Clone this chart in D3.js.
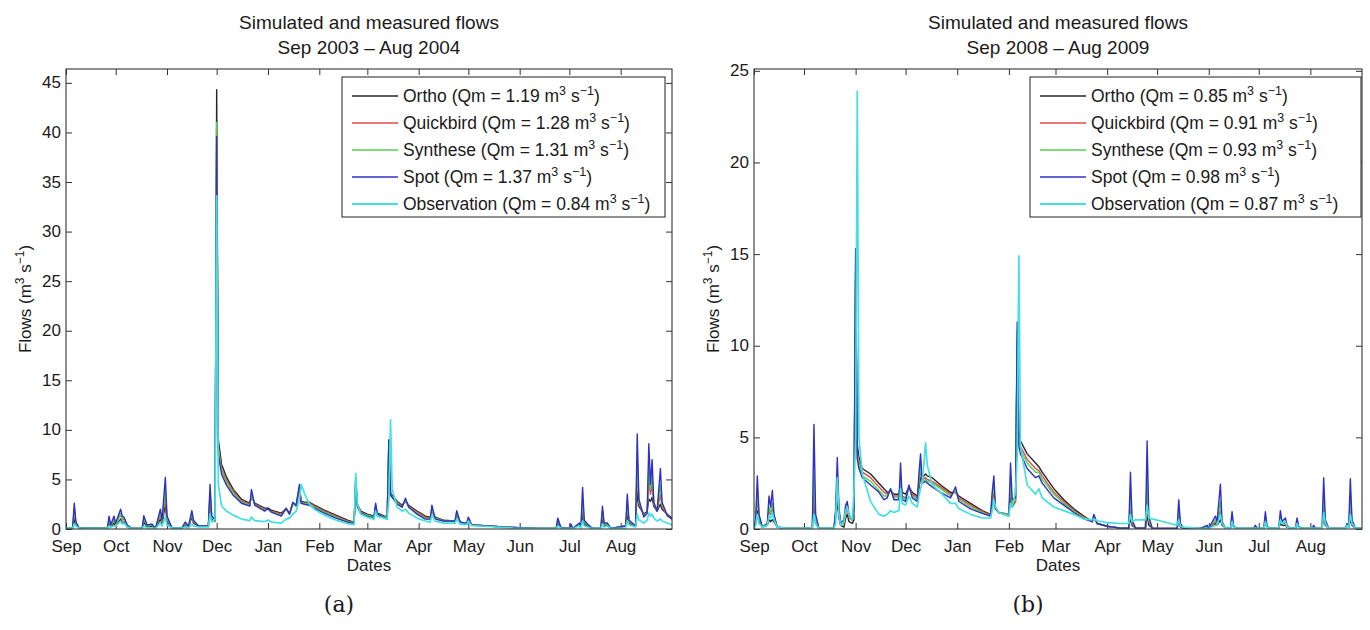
<!DOCTYPE html>
<html><head><meta charset="utf-8">
<script src="https://cdn.jsdelivr.net/npm/d3@7"></script>
<style>
body{margin:0;background:#fff}
text{font-family:"Liberation Sans",Arial,Helvetica,sans-serif;fill:#1a1a1a}
</style>
</head><body><svg id="c" width="1370" height="630"></svg>
<script>
// ---------- shared ----------
const seriesNames = ["Ortho","Quickbird","Synthese","Spot","Observation"];
const seriesColors = ["#262626","#e2474b","#4fd24f","#3030c4","#44e0e0"];
const monthLabels = ["Sep","Oct","Nov","Dec","Jan","Feb","Mar","Apr","May","Jun","Jul","Aug"];
const yTicksA = [0,5,10,15,20,25,30,35,40,45];
const yTicksB = [0,5,10,15,20,25];
const qmA = ["1.19","1.28","1.31","1.37","0.84"];
const qmB = ["0.85","0.91","0.93","0.98","0.87"];

// ---------- panel (a): Sep 2003 - Aug 2004, day 0 = 1 Sep 2003 ----------
const daysA = [0,4,5,6,8,25,26,27,29,30, 33,34,35,37,40,46,47,49,52,54, 57,58,60,61,64,70,72,74,76,77,
 80,86,87,88,90,91,92,94,97,101, 106,111,112,114,120,122,124,130,133,135, 137,139,141,142,144,147,150,156,163,170,
 174,175,176,178,182,186,187,188,194,195, 196,197,200,203,205,207,212,217,220,221, 223,228,235,236,238,242,243,245,255,270,
 285,296,297,299,304,305,306,310,311,312, 313,315,318,323,324,325,327,329,338,339, 340,344,345,346,349,351,352,353,354,355,
 357,359,360,363,366];
const orthoA = [.05,.1,1.0,.4,.1,.05,.6,.2,.6,.3, 1.0,.6,.7,.2,.05,.05,.7,.2,.3,.05, 1.0,.5,2.5,.8,.1,.1,.4,.2,1.2,.6,
 .3,.3,3.0,1.0,.8,44.3,9.0,6.5,5.2,4.0, 3.0,2.6,3.3,2.6,2.1,2.1,1.9,1.6,2.0,1.6, 2.6,2.3,4.2,2.8,2.7,2.7,2.4,1.9,1.4,.9,
 .7,4.5,2.5,1.8,1.5,1.3,2.2,1.6,1.2,9.0, 3.6,3.4,2.8,2.4,2.8,2.4,1.8,1.3,1.2,1.8, 1.2,.9,.8,1.5,.7,.55,1.0,.4,.3,.15,
 .05,.05,.6,.1,.05,.3,.05,.5,.2,1.5, .5,.3,.05,.05,1.0,.4,.4,.05,.3,1.5, .6,.3,3.8,2.3,1.5,1.8,3.0,2.8,3.2,2.3,
 1.8,2.5,2.0,1.5,1.1];
const quickbirdA = [.05,.1,1.8,.5,.1,.05,.9,.3,.9,.5, 1.5,.9,1.0,.3,.05,.05,1.0,.3,.4,.05, 1.4,.7,3.5,1.0,.1,.1,.5,.2,1.5,.7,
 .3,.3,3.6,1.1,.9,40.5,8.3,6.0,4.9,3.8, 2.8,2.5,3.4,2.5,2.0,2.0,1.8,1.5,2.0,1.5, 2.5,2.3,4.2,2.7,2.6,2.6,2.3,1.8,1.3,.8,
 .65,4.8,2.4,1.7,1.4,1.2,2.3,1.5,1.1,8.8, 3.5,3.3,2.7,2.3,2.9,2.3,1.7,1.2,1.1,1.9, 1.1,.85,.8,1.6,.7,.55,1.05,.4,.3,.15,
 .05,.05,.8,.1,.05,.4,.05,.5,.2,2.4, .7,.4,.05,.05,1.5,.5,.5,.05,.3,2.2, .7,.3,6.0,2.6,1.4,1.7,5.0,3.5,4.5,2.5,
 1.8,3.5,2.3,1.4,1.0];
const syntheseA = [.05,.1,2.0,.6,.1,.05,1.0,.3,1.0,.5, 1.6,1.0,1.1,.3,.05,.05,1.1,.3,.4,.05, 1.6,.8,4.0,1.1,.1,.1,.6,.2,1.6,.8,
 .3,.3,3.8,1.2,.9,41.0,8.0,5.8,4.7,3.6, 2.7,2.4,3.5,2.4,1.9,2.0,1.7,1.4,2.0,1.5, 2.5,2.3,4.3,2.6,2.6,2.5,2.2,1.7,1.2,.75,
 .6,5.0,2.3,1.6,1.4,1.2,2.4,1.5,1.1,8.7, 3.4,3.2,2.6,2.2,2.9,2.2,1.6,1.1,1.0,2.0, 1.1,.8,.8,1.7,.7,.55,1.1,.4,.3,.15,
 .05,.05,.9,.1,.05,.4,.05,.5,.2,2.8, .8,.4,.05,.05,1.8,.5,.5,.05,.3,2.6, .8,.3,7.0,2.8,1.3,1.6,6.2,4.0,5.5,2.6,
 1.8,4.5,2.5,1.4,1.0];
const spotA = [.05,.1,2.6,.7,.1,.05,1.3,.4,1.3,.6, 2.0,1.3,1.2,.4,.05,.05,1.35,.4,.5,.05, 2.0,.9,5.2,1.3,.1,.1,.7,.3,1.85,.9,
 .3,.3,4.5,1.3,1.0,39.6,7.5,5.5,4.4,3.4, 2.6,2.3,4.0,2.4,1.8,2.1,1.7,1.3,2.1,1.5, 2.7,2.4,4.5,2.6,2.5,2.4,2.1,1.6,1.1,.7,
 .55,5.2,2.2,1.6,1.3,1.1,2.6,1.5,1.0,8.9, 3.4,3.2,2.5,2.2,3.1,2.2,1.5,1.0,1.0,2.4, 1.0,.8,.8,1.85,.7,.55,1.2,.4,.3,.15,
 .05,.05,1.1,.1,.05,.5,.05,.6,.2,4.2, .9,.5,.05,.05,2.3,.6,.6,.05,.3,3.5, .9,.3,9.6,3.0,1.2,1.6,8.6,4.5,7.0,2.7,
 1.8,6.1,2.7,1.4,1.0];
const observationA = [.1,.1,.5,.3,.1,.05,.3,.2,.3,.3, .8,.5,.6,.2,.05,.05,.3,.1,.1,.05, .6,.3,1.2,.4,.1,.1,.2,.1,.5,.3,
 .2,.2,1.5,.7,1.0,33.6,4.5,2.3,1.8,1.4, 1.0,.85,1.2,.85,.75,.9,.7,.6,1.0,1.1, 1.5,1.8,3.0,4.5,3.6,2.5,2.0,1.4,.9,.55,
 .45,5.6,2.5,1.5,1.2,1.0,1.8,1.3,1.0,3.0, 11.0,4.0,2.2,1.8,2.0,1.6,1.1,.8,.7,1.4, .8,.6,.6,1.0,.5,.45,.8,.35,.25,.1,
 .03,.03,.3,.05,.03,.1,.03,.3,.1,.8, .3,.2,.03,.03,.5,.2,.3,.03,.1,.8, .4,.2,1.5,.9,.6,.9,1.6,1.3,1.5,1.1,
 .8,1.0,.8,.6,.4];

// ---------- panel (b): Sep 2008 - Aug 2009, day 0 = 1 Sep 2008 ----------
const daysB = [0,1,2,3,5,8,9,10,11,12, 14,20,35,36,37,39,48,49,50,51, 52,54,55,56,57,59,60,61,62,63,
 65,70,75,78,80,82,84,87,88,89, 91,93,95,98,99,100,101,103,104,107, 112,118,121,123,130,137,142,143,144,145,
 147,153,154,155,157,158,159,160,164,169, 171,173,180,186,192,198,203,204,206,212, 220,225,226,227,229,235,236,237,239,250,
 254,255,256,258,268,272,273,277,278,280, 281,283,286,287,288,290,300,301,302,306, 307,308,310,315,316,317,319,320,322,325,
 326,327,329,335,336,337,341,342,343,345, 355,356,357,358,359,361,365];
const orthoB = [.05,.3,1.0,.4,.1,.2,.5,.4,.5,.4, .1,.03,.03,1.5,.3,.03,.03,.6,1.5,.6, .2,.1,.6,.8,.4,.3,.5,13.5,4.6,3.9,
 3.3,3.0,2.5,2.2,2.0,2.1,1.9,1.9,2.3,2.0, 1.9,2.3,2.0,1.8,2.2,2.8,2.8,3.0,2.9,2.8, 2.4,2.0,2.0,1.8,1.4,1.0,.8,1.2,1.6,1.1,
 .9,.8,1.8,1.2,1.5,10.0,5.3,4.8,4.1,3.6, 3.4,3.1,2.2,1.6,1.1,.7,.4,.6,.3,.15, .05,.05,.6,.2,.05,.05,.8,.2,.05,.03,
 .03,.4,.1,.03,.03,.1,.03,.3,.2,.5, .2,.05,.05,.3,.1,.03,.03,.15,.03,.03, .3,.1,.03,.03,.3,.2,.2,.1,.03,.03,
 .2,.1,.03,.03,.1,.03,.03,.6,.2,.03, .03,.2,.1,.5,.2,.03,.03];
const quickbirdB = [.05,.4,1.8,.6,.1,.3,1.0,.8,1.2,.6, .1,.03,.03,2.5,.5,.03,.03,.8,2.5,.9, .3,.3,.8,1.2,.6,.5,.8,14.0,4.2,3.7,
 3.1,2.8,2.3,2.0,1.9,2.1,1.8,1.8,2.6,1.8, 1.7,2.3,1.9,1.7,2.4,3.2,2.7,2.8,2.7,2.6, 2.3,1.9,2.0,1.7,1.3,.95,.75,1.5,2.0,1.1,
 .9,.8,2.2,1.3,1.5,10.3,5.0,4.5,3.8,3.3, 3.2,2.9,2.0,1.5,1.0,.65,.4,.65,.3,.15, .05,.05,1.2,.3,.05,.05,1.8,.4,.05,.03,
 .03,.8,.2,.03,.03,.1,.03,.4,.3,1.0, .3,.05,.05,.5,.1,.03,.03,.15,.03,.03, .5,.1,.03,.03,.5,.3,.3,.1,.03,.03,
 .3,.1,.03,.03,.1,.03,.03,1.2,.3,.03, .03,.2,.1,1.2,.3,.03,.03];
const syntheseB = [.05,.4,2.2,.7,.1,.3,1.2,.9,1.4,.7, .1,.03,.03,3.0,.6,.03,.03,.9,3.0,1.0, .3,.4,1.0,1.3,.7,.5,.9,14.5,4.0,3.5,
 2.9,2.6,2.1,1.8,1.8,2.2,1.7,1.7,2.8,1.7, 1.6,2.3,1.8,1.6,2.6,3.5,2.6,2.7,2.6,2.5, 2.2,1.8,2.1,1.6,1.2,.9,.7,1.8,2.3,1.1,
 .9,.75,2.6,1.4,1.6,10.8,4.8,4.3,3.6,3.1, 3.1,2.7,1.9,1.4,.95,.6,.4,.7,.3,.15, .05,.05,1.8,.4,.05,.05,2.8,.5,.05,.03,
 .03,1.1,.2,.03,.03,.1,.03,.5,.3,1.5, .35,.05,.05,.6,.1,.03,.03,.15,.03,.03, .6,.1,.03,.03,.6,.3,.4,.15,.03,.03,
 .4,.1,.03,.03,.1,.03,.03,1.7,.4,.03, .03,.25,.1,1.7,.4,.03,.03];
const spotB = [.05,.5,2.9,.8,.1,.3,1.8,1.2,2.1,.8, .1,.03,.03,5.7,.8,.03,.03,1.0,3.9,1.2, .3,.5,1.3,1.5,.8,.5,1.1,15.3,3.8,3.3,
 2.8,2.4,2.0,1.6,1.7,2.2,1.6,1.6,3.6,1.6, 1.5,2.4,1.7,1.5,3.0,4.1,2.5,2.6,2.5,2.3, 2.0,1.7,2.3,1.5,1.1,.85,.7,2.0,2.9,1.1,
 .9,.7,3.6,1.6,1.7,11.3,4.5,4.1,3.3,2.8, 2.9,2.5,1.7,1.3,.9,.55,.4,.8,.3,.15, .05,.05,3.1,.5,.05,.05,4.8,.7,.05,.03,
 .03,1.6,.3,.03,.03,.2,.03,.7,.4,2.45, .4,.05,.05,.95,.15,.03,.03,.2,.03,.03, .95,.15,.03,.03,1.0,.4,.6,.2,.03,.03,
 .6,.15,.03,.03,.2,.03,.03,2.8,.5,.03, .03,.3,.1,2.75,.5,.03,.03];
const observationB = [.05,.2,.8,.3,.1,.2,.7,.6,.9,.5, .1,.03,.03,.8,.3,.03,.03,.3,2.8,.8, .2,.4,1.0,1.2,.8,.5,2.0,5.0,23.9,5.0,
 3.0,1.5,.8,.7,.8,1.0,.9,1.0,2.2,1.4, 1.3,1.8,1.4,1.2,1.8,2.2,2.5,4.7,3.5,2.4, 2.0,1.4,1.4,1.1,.8,.6,.6,1.0,1.6,1.2,
 .9,.7,1.4,1.2,2.0,4.0,14.9,4.5,2.4,1.9, 2.2,1.7,1.2,1.0,.8,.55,.5,.55,.45,.35, .3,.3,.8,.4,.5,.5,1.3,.6,.55,.3,
 .2,.5,.15,.1,.02,.02,.02,.2,.2,.8, .3,.05,.05,.4,.1,.03,.03,.05,.03,.03, .4,.1,.03,.03,.5,.3,.4,.15,.03,.03,
 .3,.1,.03,.03,.05,.03,.03,.9,.3,.03, .03,.2,.1,.8,.3,.03,.03];

// ---------- drawing ----------
const svg = d3.select("#c");

function unitText(t, prefix, suffix, supSize){
  t.append("tspan").text(prefix + "m");
  t.append("tspan").attr("dy",-7).attr("font-size",supSize).text("3");
  t.append("tspan").attr("dy",7).text(" s");
  t.append("tspan").attr("dy",-7).attr("font-size",supSize).text("\u22121");
  t.append("tspan").attr("dy",7).text(suffix);
}

function panel(cfg){
  const {x0,x1,top,bottom,start,end,ymax,yTicks,days,series,qm,titleLines,label,legend,id} = cfg;
  const x = d3.scaleUtc().domain([start,end]).range([x0,x1]);
  const y = d3.scaleLinear().domain([0,ymax]).range([bottom,top]);
  const g = svg.append("g");

  g.append("clipPath").attr("id","clip"+id).append("rect")
    .attr("x",x0).attr("y",top).attr("width",x1-x0).attr("height",bottom-top);

  const months = d3.utcMonth.range(start,end);
  const axB = g.append("g").attr("transform",`translate(0,${bottom})`)
    .call(d3.axisBottom(x).tickValues(months).tickSizeInner(-6).tickSizeOuter(0).tickPadding(13)
      .tickFormat((d,i)=>monthLabels[i]));
  const axT = g.append("g").attr("transform",`translate(0,${top})`)
    .call(d3.axisTop(x).tickValues(months).tickSizeInner(-6).tickSizeOuter(0).tickFormat(""));
  const axL = g.append("g").attr("transform",`translate(${x0},0)`)
    .call(d3.axisLeft(y).tickValues(yTicks).tickSizeInner(-6).tickSizeOuter(0).tickPadding(5));
  const axR = g.append("g").attr("transform",`translate(${x1},0)`)
    .call(d3.axisRight(y).tickValues(yTicks).tickSizeInner(-6).tickSizeOuter(0).tickFormat(""));
  [axB,axT,axL,axR].forEach(a=>{
    a.selectAll("path").remove();
    a.selectAll("line").attr("stroke","#333").attr("stroke-width",1);
    a.selectAll("text").attr("font-size",17).attr("fill","#1a1a1a")
      .attr("font-family",'"Liberation Sans",Arial,sans-serif');
  });
  axB.selectAll("text").attr("dy","0.6em");
  axL.selectAll("text").attr("dy","0.3em");

  const line = d3.line().x((d,i)=>x(d3.utcDay.offset(start,days[i]))).y(d=>y(d));
  const lg = g.append("g").attr("clip-path",`url(#clip${id})`);
  series.forEach((vals,k)=>{
    lg.append("path").datum(vals).attr("d",line).attr("fill","none")
      .attr("stroke",seriesColors[k]).attr("stroke-width",k===4?1.7:1.4)
      .attr("stroke-linejoin","round");
  });

  g.append("rect").attr("x",x0).attr("y",top).attr("width",x1-x0).attr("height",bottom-top)
    .attr("fill","none").attr("stroke","#333").attr("stroke-width",1.1);

  const cx = (x0+x1)/2;
  titleLines.forEach((t,i)=>g.append("text").attr("x",cx).attr("y",29+i*25)
    .attr("text-anchor","middle").attr("font-size",19).text(t));

  g.append("text").attr("x",cx).attr("y",571).attr("text-anchor","middle").attr("font-size",17).text("Dates");
  const yl = g.append("text").attr("transform",`translate(${x0-35},${(top+bottom)/2}) rotate(-90)`)
    .attr("text-anchor","middle").attr("font-size",17);
  unitText(yl,"Flows (",")",12);

  const L = g.append("g");
  L.append("rect").attr("x",legend.x).attr("y",legend.y).attr("width",legend.w).attr("height",140)
    .attr("fill","#fff").attr("stroke","#333").attr("stroke-width",1.1);
  seriesNames.forEach((n,k)=>{
    const ry = legend.y + 19 + k*27;
    L.append("line").attr("x1",legend.x+10).attr("x2",legend.x+56).attr("y1",ry).attr("y2",ry)
      .attr("stroke",seriesColors[k]).attr("stroke-width",k===4?1.9:1.5);
    const t = L.append("text").attr("x",legend.x+61).attr("y",ry+6).attr("font-size",17.5);
    unitText(t, `${n} (Qm = ${qm[k]} `, ")", 12.5);
  });

  svg.append("text").attr("x",cx-30).attr("y",612).attr("text-anchor","middle")
    .attr("font-size",22).style("font-family",'"DejaVu Serif","Liberation Serif",serif').text(label);
}

panel({id:"a", x0:66, x1:672, top:69, bottom:529,
  start:new Date(Date.UTC(2003,8,1)), end:new Date(Date.UTC(2004,8,1)),
  ymax:46.4, yTicks:yTicksA, days:daysA,
  series:[orthoA,quickbirdA,syntheseA,spotA,observationA], qm:qmA,
  titleLines:["Simulated and measured flows","Sep 2003 \u2013 Aug 2004"], label:"(a)",
  legend:{x:342,y:77,w:323}});

panel({id:"b", x0:754, x1:1362, top:69, bottom:529,
  start:new Date(Date.UTC(2008,8,1)), end:new Date(Date.UTC(2009,8,1)),
  ymax:25.1, yTicks:yTicksB, days:daysB,
  series:[orthoB,quickbirdB,syntheseB,spotB,observationB], qm:qmB,
  titleLines:["Simulated and measured flows","Sep 2008 \u2013 Aug 2009"], label:"(b)",
  legend:{x:1030,y:77,w:331}});
</script></body></html>
